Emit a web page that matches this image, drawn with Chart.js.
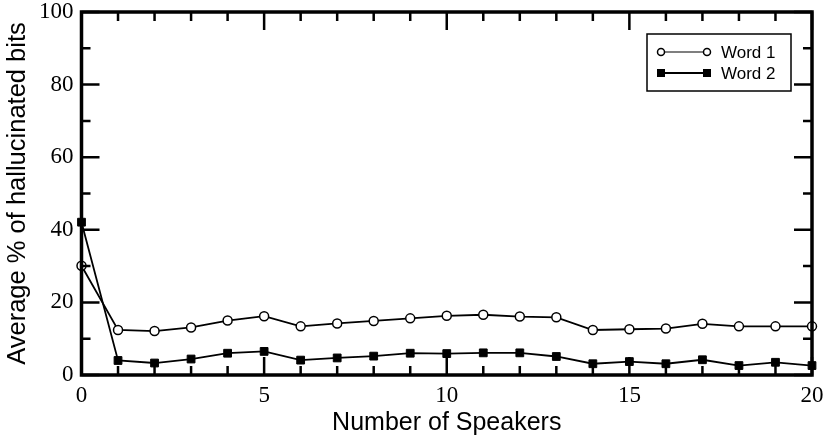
<!DOCTYPE html>
<html>
<head>
<meta charset="utf-8">
<script src="https://cdn.jsdelivr.net/npm/chart.js@4"></script>
<style>
  html, body { margin: 0; padding: 0; background: #fff; }
  #wrap { width: 832px; height: 448px; }
</style>
</head>
<body>
<div id="wrap"><canvas id="myChart"></canvas></div>
<script>
// data
const speakers = [0, 1, 2, 3, 4, 5, 6, 7, 8, 9, 10, 11, 12, 13, 14, 15, 16, 17, 18, 19, 20];
const word1 = [30.1, 12.4, 12.1, 13.1, 15.0, 16.2, 13.4, 14.2, 14.9, 15.6, 16.3, 16.6, 16.1, 15.9, 12.4, 12.6, 12.8, 14.1, 13.4, 13.4, 13.4];
const word2 = [42.1, 4.0, 3.3, 4.4, 6.0, 6.5, 4.1, 4.7, 5.2, 6.0, 5.9, 6.1, 6.1, 5.1, 3.1, 3.7, 3.1, 4.2, 2.6, 3.5, 2.6];
const seriesNames = ["Word 1", "Word 2"];
const xTitle = "Number of Speakers";
const yTitle = "Average % of hallucinated bits";

Chart.defaults.color = "#000";

// frame + inward ticks on all four sides
const framePlugin = {
  id: "frame",
  afterDraw(chart) {
    const { ctx, chartArea: a, scales } = chart;
    const xs = scales.x, ys = scales.y;
    ctx.save();
    ctx.strokeStyle = "#000";
    ctx.lineWidth = 2.5;
    ctx.beginPath();
    for (let v = 0; v <= 20; v++) {
      const len = v % 5 === 0 ? 18 : 9;
      const px = xs.getPixelForValue(v);
      ctx.moveTo(px, a.bottom); ctx.lineTo(px, a.bottom - len);
      ctx.moveTo(px, a.top); ctx.lineTo(px, a.top + len);
    }
    for (let v = 0; v <= 100; v += 10) {
      const len = v % 20 === 0 ? 18 : 9;
      const py = ys.getPixelForValue(v);
      ctx.moveTo(a.left, py); ctx.lineTo(a.left + len, py);
      ctx.moveTo(a.right, py); ctx.lineTo(a.right - len, py);
    }
    ctx.stroke();
    ctx.lineWidth = 3.5;
    ctx.strokeRect(a.left, a.top, a.right - a.left, a.bottom - a.top);

    // legend
    const bx = 647, by = 34, bw = 144, bh = 57;
    ctx.fillStyle = "#fff";
    ctx.fillRect(bx, by, bw, bh);
    ctx.lineWidth = 1.5;
    ctx.strokeRect(bx, by, bw, bh);
    const rows = [52, 73];
    ctx.font = "17px 'Liberation Sans', Arial, sans-serif";
    ctx.textBaseline = "middle";
    rows.forEach((ry, i) => {
      ctx.lineWidth = i === 0 ? 1.2 : 2;
      ctx.beginPath();
      ctx.moveTo(661, ry); ctx.lineTo(707, ry);
      ctx.stroke();
      [661, 707].forEach(mx => {
        if (i === 0) {
          ctx.beginPath();
          ctx.arc(mx, ry, 3.5, 0, Math.PI * 2);
          ctx.fillStyle = "#fff";
          ctx.fill();
          ctx.lineWidth = 1.5;
          ctx.stroke();
        } else {
          ctx.fillStyle = "#000";
          ctx.fillRect(mx - 4, ry - 4, 8, 8);
        }
      });
      ctx.fillStyle = "#000";
      ctx.fillText(seriesNames[i], 721, ry + 1);
    });
    ctx.restore();
  }
};

const ctx = document.getElementById("myChart");
new Chart(ctx, {
  type: "line",
  data: {
    datasets: [
      {
        label: seriesNames[0],
        data: speakers.map((s, i) => ({ x: s, y: word1[i] })),
        borderColor: "#000",
        borderWidth: 1.8,
        pointStyle: "circle",
        pointRadius: 4.5,
        pointBorderWidth: 1.5,
        pointBackgroundColor: "#fff",
        pointBorderColor: "#000",
        tension: 0,
      },
      {
        label: seriesNames[1],
        data: speakers.map((s, i) => ({ x: s, y: word2[i] })),
        borderColor: "#000",
        borderWidth: 1.8,
        pointStyle: "rect",
        pointRadius: 5.5,
        pointBorderWidth: 1,
        pointBackgroundColor: "#000",
        pointBorderColor: "#000",
        tension: 0,
      },
    ],
  },
  options: {
    responsive: true,
    maintainAspectRatio: false,
    animation: false,
    clip: false,
    layout: { padding: { top: 12, right: 20, left: 0, bottom: 0 } },
    plugins: {
      legend: { display: false },
      tooltip: { enabled: false },
    },
    scales: {
      x: {
        type: "linear",
        min: 0,
        max: 20,
        grid: { display: false, drawTicks: false },
        border: { display: false },
        ticks: {
          stepSize: 5,
          padding: 7,
          font: { family: "'Liberation Serif', 'Times New Roman', serif", size: 23 },
        },
        title: {
          display: true,
          text: xTitle,
          font: { family: "'Liberation Sans', Arial, sans-serif", size: 25 },
          padding: { top: 10, bottom: 10 },
        },
        afterFit(scale) {
          scale.height = 73;
          scale.paddingLeft = 0;
          scale.paddingRight = 0;
        },
      },
      y: {
        min: 0,
        max: 100,
        grid: { display: false, drawTicks: false },
        border: { display: false },
        ticks: {
          stepSize: 20,
          padding: 8,
          font: { family: "'Liberation Serif', 'Times New Roman', serif", size: 23 },
        },
        title: {
          display: true,
          text: yTitle,
          font: { family: "'Liberation Sans', Arial, sans-serif", size: 25.5 },
          padding: { top: 3, bottom: 3 },
        },
        afterFit(scale) {
          scale.width = 81.5;
          scale.paddingTop = 0;
          scale.paddingBottom = 0;
        },
      },
    },
  },
  plugins: [framePlugin],
});
</script>
</body>
</html>
